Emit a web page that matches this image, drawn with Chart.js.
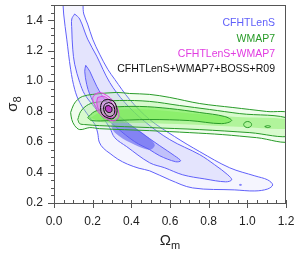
<!DOCTYPE html>
<html>
<head>
<meta charset="utf-8">
<script src="https://cdn.jsdelivr.net/npm/chart.js@4"></script>
<style>
  html, body { margin: 0; padding: 0; background: #fff; }
</style>
</head>
<body>
<canvas id="contours" width="298" height="257"></canvas>
<script>
// axis ticks
const xTicks = [0.0, 0.2, 0.4, 0.6, 0.8, 1.0, 1.2];
const yTicks = [0.2, 0.4, 0.6, 0.8, 1.0, 1.2, 1.4];
const legendLabels = ["CFHTLenS", "WMAP7", "CFHTLenS+WMAP7", "CFHTLenS+WMAP7+BOSS+R09"];

// CFHTLenS contours (Omega_m, sigma_8)
const cfhtOuter = [[0.045,1.55],[0.138,1.55],[0.154,1.441],[0.174,1.375],[0.200,1.276],[0.236,1.177],[0.278,1.078],
  [0.314,1.012],[0.391,0.880],[0.495,0.748],[0.624,0.636],[0.754,0.537],[0.909,0.431],[1.039,0.378],[1.105,0.352],
  [1.131,0.319],[1.105,0.292],[1.039,0.279],[0.935,0.286],[0.717,0.299],[0.599,0.352],[0.495,0.411],[0.440,0.428],
  [0.380,0.455],[0.330,0.488],[0.290,0.525],[0.255,0.560],[0.234,0.600],[0.226,0.660],[0.212,0.715],[0.185,0.761],
  [0.133,0.860],[0.107,0.946],[0.086,1.078],[0.066,1.276],[0.050,1.441],[0.045,1.55]];
const cfhtMid = [[0.107,1.441],[0.133,1.408],[0.174,1.276],[0.221,1.164],[0.288,0.992],[0.366,0.860],[0.469,0.735],
  [0.599,0.616],[0.754,0.517],[0.831,0.451],[0.899,0.385],[0.919,0.352],[0.888,0.339],[0.780,0.358],[0.666,0.385],
  [0.573,0.431],[0.495,0.464],[0.376,0.570],[0.314,0.629],[0.288,0.695],[0.252,0.761],[0.211,0.827],[0.159,0.913],
  [0.133,0.992],[0.107,1.111],[0.097,1.210],[0.092,1.342],[0.092,1.408],[0.107,1.441]];
const cfhtInner = [[0.164,1.104],[0.185,1.065],[0.221,0.966],[0.273,0.860],[0.340,0.768],[0.443,0.669],[0.547,0.576],
  [0.624,0.510],[0.655,0.477],[0.629,0.471],[0.547,0.510],[0.495,0.550],[0.417,0.603],[0.324,0.695],[0.262,0.768],
  [0.216,0.834],[0.185,0.913],[0.169,0.979],[0.159,1.065],[0.164,1.104]];
const cfhtCore = [[0.314,0.761],[0.391,0.715],[0.469,0.649],[0.521,0.583],[0.495,0.550],[0.417,0.583],[0.340,0.636],
  [0.298,0.695],[0.314,0.761]];
const cfhtDot = [[0.959,0.319],[0.965,0.322],[0.970,0.319],[0.965,0.316],[0.959,0.319]];

// WMAP7 contours
const wmapOuter = [[0.086,0.794],[0.102,0.847],[0.123,0.880],[0.148,0.900],[0.200,0.913],[0.324,0.926],[0.391,0.919],
  [0.495,0.913],[0.599,0.893],[0.754,0.853],[0.925,0.827],[1.100,0.801],[1.230,0.781],[1.230,0.609],[1.048,0.629],
  [0.873,0.649],[0.702,0.662],[0.495,0.675],[0.236,0.688],[0.185,0.695],[0.133,0.682],[0.107,0.708],[0.092,0.748],[0.086,0.794]];
const wmapMid = [[0.123,0.748],[0.138,0.801],[0.169,0.840],[0.211,0.860],[0.340,0.873],[0.495,0.867],[0.650,0.840],
  [0.805,0.814],[0.961,0.787],[1.230,0.748],[1.230,0.642],[1.013,0.662],[0.754,0.682],[0.495,0.695],[0.236,0.708],
  [0.159,0.715],[0.133,0.721],[0.123,0.748]];
const wmapInner = [[0.174,0.761],[0.211,0.801],[0.288,0.827],[0.443,0.834],[0.599,0.820],[0.754,0.794],[0.883,0.768],
  [0.919,0.741],[0.867,0.721],[0.702,0.741],[0.495,0.748],[0.288,0.741],[0.195,0.741],[0.174,0.761]];
const wmapGlow = [[0.19,0.76],[0.25,0.80],[0.45,0.815],[0.70,0.79],[0.95,0.765],[1.23,0.745],[1.23,0.69],[0.95,0.70],
  [0.70,0.715],[0.45,0.725],[0.25,0.73],[0.19,0.76]];
const wmapIsleA = [[0.981,0.715],[0.986,0.728],[1.002,0.735],[1.017,0.728],[1.022,0.715],[1.017,0.702],[1.002,0.695],
  [0.986,0.702],[0.981,0.715]];
const wmapIsleB = [[1.090,0.702],[1.105,0.708],[1.121,0.702],[1.105,0.695],[1.090,0.702]];

// CFHTLenS+WMAP7 contours
const jointOuter = [[0.211,0.913],[0.236,0.926],[0.273,0.906],[0.304,0.873],[0.330,0.814],[0.335,0.768],[0.314,0.741],
  [0.278,0.748],[0.236,0.787],[0.211,0.840],[0.200,0.887],[0.211,0.913]];
const jointInner = [[0.226,0.893],[0.257,0.900],[0.288,0.873],[0.314,0.827],[0.319,0.781],[0.298,0.761],[0.262,0.774],
  [0.231,0.814],[0.221,0.860],[0.226,0.893]];

// CFHTLenS+WMAP7+BOSS+R09 contours
const allOuter = [[0.283,0.880],[0.309,0.867],[0.324,0.827],[0.324,0.787],[0.304,0.754],[0.273,0.761],[0.247,0.787],
  [0.242,0.840],[0.257,0.873],[0.283,0.880]];
const allMid = [[0.283,0.860],[0.304,0.847],[0.314,0.814],[0.309,0.781],[0.288,0.768],[0.268,0.781],[0.257,0.814],
  [0.262,0.847],[0.283,0.860]];
const allInner = [[0.283,0.840],[0.298,0.827],[0.298,0.801],[0.283,0.794],[0.268,0.808],[0.268,0.834],[0.283,0.840]];

const BLUE = "rgb(96,96,250)";
const GREEN = "rgb(40,155,40)";
const MAGENTA = "rgb(225,60,225)";

function pts(arr) { return arr.map(p => ({ x: p[0], y: p[1] })); }

function contour(data, line, fillColor, order, width) {
  return {
    data: pts(data),
    showLine: true,
    borderColor: line || "rgba(0,0,0,0)",
    borderWidth: line ? (width || 1) : 0,
    backgroundColor: fillColor || "rgba(0,0,0,0)",
    fill: fillColor ? "shape" : false,
    pointRadius: 0,
    tension: 0.35,
    order: order
  };
}

const axesPlugin = {
  id: "axesPlugin",
  afterDraw(chart) {
    const { ctx, chartArea: a, scales: { x, y } } = chart;
    ctx.save();
    ctx.strokeStyle = "#555";
    ctx.lineWidth = 1;
    ctx.strokeRect(Math.round(a.left) + 0.5, Math.round(a.top) + 0.5, Math.round(a.width) - 1, Math.round(a.height));

    ctx.beginPath();
    for (let v = 0; v <= 1.2001; v += 0.05) {
      const px = Math.round(x.getPixelForValue(v)) + 0.5;
      const major = Math.abs(v * 5 - Math.round(v * 5)) < 1e-6;
      ctx.moveTo(px, a.bottom - 3);
      ctx.lineTo(px, major ? a.bottom + 5 : a.bottom);
    }
    for (let v = 0.2; v <= 1.5001; v += 0.05) {
      const py = Math.round(y.getPixelForValue(v)) + 0.5;
      const major = Math.abs(v * 5 - Math.round(v * 5)) < 1e-6;
      ctx.moveTo(a.left, py);
      ctx.lineTo(a.left - (major ? 6 : 3), py);
    }
    ctx.stroke();

    ctx.fillStyle = "#222";
    ctx.font = '12px "Liberation Sans", Arial, sans-serif';
    ctx.textAlign = "center";
    ctx.textBaseline = "middle";
    xTicks.forEach(v => ctx.fillText(v.toFixed(1), x.getPixelForValue(v), a.bottom + 19));
    ctx.textAlign = "right";
    yTicks.forEach(v => ctx.fillText(v.toFixed(1), a.left - 11, y.getPixelForValue(v)));

    // axis titles
    ctx.textAlign = "left";
    ctx.textBaseline = "alphabetic";
    ctx.font = '15px "Liberation Sans", Arial, sans-serif';
    const cx = (a.left + a.right) / 2;
    const wO = ctx.measureText("\u03A9").width;
    ctx.font = '11px "Liberation Sans", Arial, sans-serif';
    const wm = ctx.measureText("m").width;
    let sx = cx - (wO + wm) / 2;
    ctx.font = '15px "Liberation Sans", Arial, sans-serif';
    ctx.fillText("\u03A9", sx, 245);
    ctx.font = '11px "Liberation Sans", Arial, sans-serif';
    ctx.fillText("m", sx + wO, 249);

    ctx.translate(17, (a.top + a.bottom) / 2);
    ctx.rotate(-Math.PI / 2);
    ctx.font = '15px "Liberation Sans", Arial, sans-serif';
    const ws = ctx.measureText("\u03C3").width;
    ctx.font = '11px "Liberation Sans", Arial, sans-serif';
    const w8 = ctx.measureText("8").width;
    sx = -(ws + w8) / 2;
    ctx.font = '15px "Liberation Sans", Arial, sans-serif';
    ctx.fillText("\u03C3", sx, 0);
    ctx.font = '11px "Liberation Sans", Arial, sans-serif';
    ctx.fillText("8", sx + ws, 4);
    ctx.restore();

    // legend text
    ctx.save();
    ctx.font = '10.5px "Liberation Sans", Arial, sans-serif';
    ctx.textAlign = "right";
    ctx.textBaseline = "middle";
    const colors = [BLUE, GREEN, MAGENTA, "#111"];
    legendLabels.forEach((t, i) => {
      ctx.fillStyle = colors[i];
      ctx.fillText(t, 275, 23.5 + i * 15.2);
    });
    ctx.restore();
  }
};

new Chart(document.getElementById("contours"), {
  type: "scatter",
  data: {
    datasets: [
      contour(allInner, "#000", "rgba(190,40,200,0.85)", 0),
      contour(allMid, "#000", null, 0),
      contour(allOuter, "#000", null, 0),
      contour(jointInner, MAGENTA, "rgba(220,120,235,0.45)", 1),
      contour(jointOuter, MAGENTA, "rgba(235,170,245,0.35)", 1),
      contour(wmapIsleA, GREEN, null, 2),
      contour(wmapIsleB, GREEN, null, 2),
      contour(wmapInner, GREEN, "rgba(110,235,70,0.55)", 2),
      contour(wmapGlow, null, "rgba(120,235,80,0.40)", 2),
      contour(wmapMid, GREEN, "rgba(150,240,120,0.28)", 3),
      contour(wmapOuter, GREEN, "rgba(170,240,150,0.16)", 4),
      contour(cfhtDot, BLUE, null, 5),
      contour(cfhtCore, null, "rgba(90,90,240,0.60)", 5),
      contour(cfhtInner, BLUE, "rgba(120,120,245,0.32)", 5),
      contour(cfhtMid, BLUE, "rgba(150,150,250,0.18)", 6),
      contour(cfhtOuter, BLUE, "rgba(170,170,250,0.12)", 7)
    ]
  },
  options: {
    responsive: false,
    animation: false,
    devicePixelRatio: 1,
    layout: { padding: { left: 54, top: 5, right: 12, bottom: 54 } },
    plugins: { legend: { display: false }, tooltip: { enabled: false } },
    scales: {
      x: { type: "linear", min: 0, max: 1.2, display: false },
      y: { type: "linear", min: 0.2, max: 1.5, display: false }
    }
  },
  plugins: [axesPlugin]
});
</script>
</body>
</html>
